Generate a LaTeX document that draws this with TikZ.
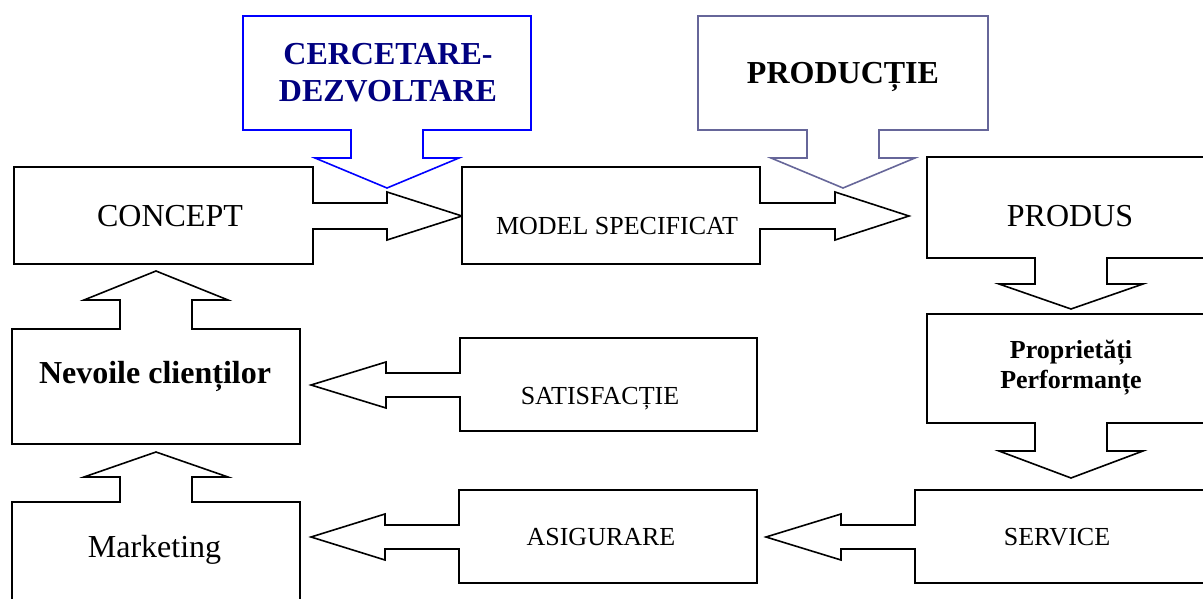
\documentclass[tikz,border=0pt]{standalone}
\usepackage{fontspec}
\setmainfont{Liberation Serif}
\definecolor{navytext}{HTML}{000080}
\definecolor{calloutblue}{HTML}{0000FF}
\definecolor{slateline}{HTML}{666699}
\begin{document}
\begin{tikzpicture}[x=1pt,y=-1pt,
  shapeline/.style={line width=1.6pt, line join=miter, fill=white, draw=black},
  lbl/.style={inner sep=0pt, font=\fontsize{26}{30}\selectfont},
  big/.style={inner sep=0pt, font=\fontsize{32}{37}\selectfont}]
\clip (0,0) rectangle (1203,599);
\fill[white] (0,0) rectangle (1203,599);

% CERCETARE-DEZVOLTARE callout
\draw[shapeline, draw=calloutblue] (243,16) -- (531,16) -- (531,130) -- (423,130) -- (423,158) -- (459,158) -- (387,188) -- (315,158) -- (351,158) -- (351,130) -- (243,130) -- cycle;
% PRODUCTIE callout
\draw[shapeline, draw=slateline] (698,16) -- (988,16) -- (988,130) -- (879,130) -- (879,158) -- (915,158) -- (843,188) -- (771,158) -- (807,158) -- (807,130) -- (698,130) -- cycle;
% CONCEPT
\draw[shapeline] (14,167) -- (313,167) -- (313,203) -- (387,203) -- (387,192) -- (462,216) -- (387,240) -- (387,229) -- (313,229) -- (313,264) -- (14,264) -- cycle;
% MODEL SPECIFICAT
\draw[shapeline] (462,167) -- (760,167) -- (760,203) -- (835,203) -- (835,192) -- (909,216) -- (835,240) -- (835,229) -- (760,229) -- (760,264) -- (462,264) -- cycle;
% PRODUS
\draw[shapeline] (927,157) -- (1215,157) -- (1215,258) -- (1107,258) -- (1107,284) -- (1143,284) -- (1071,309) -- (999,284) -- (1035,284) -- (1035,258) -- (927,258) -- cycle;
% Proprietati
\draw[shapeline] (927,314) -- (1215,314) -- (1215,423) -- (1107,423) -- (1107,451) -- (1143,451) -- (1071,478) -- (999,451) -- (1035,451) -- (1035,423) -- (927,423) -- cycle;
% SERVICE
\draw[shapeline] (915,490) -- (1215,490) -- (1215,583) -- (915,583) -- (915,549) -- (841,549) -- (841,560) -- (766,537) -- (841,514) -- (841,525) -- (915,525) -- cycle;
% ASIGURARE
\draw[shapeline] (459,490) -- (757,490) -- (757,583) -- (459,583) -- (459,549) -- (385,549) -- (385,560) -- (311,537) -- (385,514) -- (385,525) -- (459,525) -- cycle;
% SATISFACTIE
\draw[shapeline] (460,338) -- (757,338) -- (757,431) -- (460,431) -- (460,397) -- (386,397) -- (386,408) -- (311,385) -- (386,362) -- (386,373) -- (460,373) -- cycle;
% Nevoile clientilor
\draw[shapeline] (12,329) -- (120,329) -- (120,300) -- (84,300) -- (156,271) -- (228,300) -- (192,300) -- (192,329) -- (300,329) -- (300,444) -- (12,444) -- cycle;
% Marketing
\draw[shapeline] (12,502) -- (120,502) -- (120,477) -- (84,477) -- (156,452) -- (228,477) -- (192,477) -- (192,502) -- (300,502) -- (300,615) -- (12,615) -- cycle;

% texts
\node[big, font=\fontsize{32}{37}\selectfont\bfseries, text=navytext, align=center, anchor=center] (cd) at (388,73) {CERCETARE-\\DEZVOLTARE};
\node[big, font=\fontsize{32}{37}\selectfont\bfseries, anchor=base] (prod) at (843,84) {PRODUCȚIE};
\node[big, anchor=base] (concept) at (170,226) {CONCEPT};
\node[lbl, anchor=base] (model) at (617,234) {MODEL SPECIFICAT};
\node[big, anchor=base] (produs) at (1070,226) {PRODUS};
\node[lbl, font=\fontsize{26}{30}\selectfont\bfseries, align=center, anchor=center] (prop) at (1071,367.5) {Proprietăți\\Performanțe};
\node[big, font=\fontsize{32}{37}\selectfont\bfseries, anchor=base] (nevoi) at (155,383) {Nevoile clienților};
\node[lbl, anchor=base] (satis) at (600,404) {SATISFACȚIE};
\node[lbl, anchor=base] (asig) at (601,545) {ASIGURARE};
\node[lbl, anchor=base] (service) at (1057,545) {SERVICE};
\node[big, anchor=base] (mkt) at (154.5,557) {Marketing};
\end{tikzpicture}
\end{document}
